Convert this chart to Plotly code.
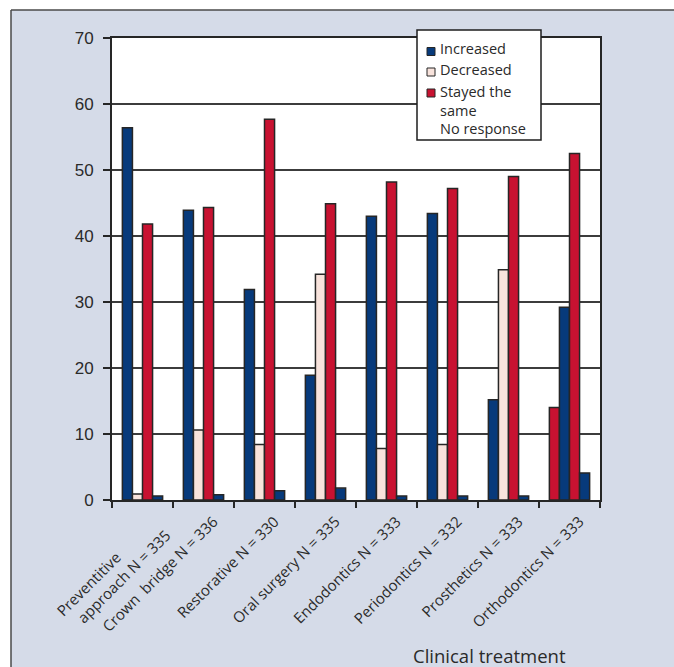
import plotly.graph_objects as go

# Survey responses (%) per clinical treatment
categories = [
    "Preventitive" + "\u00a0" * 13 + "<br>approach N = 335",
    "Crown\u00a0 bridge N = 336",
    "Restorative N = 330",
    "Oral surgery N = 335",
    "Endodontics N = 333",
    "Periodontics N = 332",
    "Prosthetics N = 333",
    "Orthodontics N = 333",
]
series_names = ["Increased", "Decreased", "Stayed the same", "No response"]
increased = [56.4, 43.9, 31.9, 18.9, 43.0, 43.4, 15.2, 14.0]
decreased = [0.9, 10.6, 8.4, 34.2, 7.8, 8.4, 34.9, 29.2]
stayed_same = [41.8, 44.3, 57.7, 44.9, 48.2, 47.2, 49.0, 52.5]
no_response = [0.6, 0.8, 1.4, 1.8, 0.6, 0.6, 0.6, 4.1]
y_ticks = [0, 10, 20, 30, 40, 50, 60, 70]

NAVY = "#073a7b"
PINK = "#f8e3dc"
RED = "#c81231"
OUTLINE = "#262626"
BG = "#d5dbe8"
TEXT = "#2a2a2a"

# the last group's bars are coloured in a different order
inc_colors = [NAVY] * 7 + [RED]
dec_colors = [PINK] * 7 + [NAVY]
stay_colors = [RED] * 8
nr_colors = [NAVY] * 8

# canvas geometry (pixels)
W, H = 674, 667
L, R, T, B = 112, 600, 38, 500
PW, PH = R - L, B - T


def px(x):
    return (x - L) / PW


def py(y):
    return (B - y) / PH


fig = go.Figure()
for name, vals, cols in zip(series_names,
                            [increased, decreased, stayed_same, no_response],
                            [inc_colors, dec_colors, stay_colors, nr_colors]):
    fig.add_trace(go.Bar(
        name=name, x=categories, y=vals,
        marker=dict(color=cols, line=dict(color=OUTLINE, width=1.5)),
        showlegend=False,
    ))

shapes = [
    # white page margin to the left and above the framed panel
    dict(type="rect", xref="paper", yref="paper", x0=px(0), x1=px(11), y0=py(H), y1=py(0),
         fillcolor="white", line=dict(width=0), layer="above"),
    dict(type="rect", xref="paper", yref="paper", x0=px(0), x1=px(W), y0=py(10), y1=py(0),
         fillcolor="white", line=dict(width=0), layer="above"),
    dict(type="line", xref="paper", yref="paper", x0=px(11), x1=px(11), y0=py(10), y1=py(H),
         line=dict(color="#4a4a4a", width=1.5), layer="above"),
    dict(type="line", xref="paper", yref="paper", x0=px(11), x1=px(W), y0=py(10), y1=py(10),
         line=dict(color="#4a4a4a", width=1.5), layer="above"),
    # legend box
    dict(type="rect", xref="paper", yref="paper", x0=px(417), x1=px(541), y0=py(140), y1=py(30),
         fillcolor="white", line=dict(color="#1e1e1e", width=1.5), layer="above"),
]

annotations = []
# legend entries: label, swatch colour, text centre (px), swatch centre (px)
legend_rows = [
    ("Increased", NAVY, 48, 51.5),
    ("Decreased", PINK, 69, 72),
    ("Stayed the<br>same", RED, 100.5, 93),
    ("No response", None, 128.5, None),
]
for text, col, ty, sy in legend_rows:
    if col is not None:
        shapes.append(dict(type="rect", xref="paper", yref="paper",
                           x0=px(427), x1=px(435), y0=py(sy + 4), y1=py(sy - 4),
                           fillcolor=col, line=dict(color=OUTLINE, width=1), layer="above"))
    annotations.append(dict(
        text=text, xref="paper", yref="paper", x=px(438), y=py(ty),
        xanchor="left", yanchor="middle", align="left", showarrow=False,
        font=dict(family="Open Sans", size=14.5, color=TEXT),
    ))

annotations.append(dict(
    text="Clinical treatment", xref="paper", yref="paper", x=px(489), y=py(655),
    xanchor="center", yanchor="middle", showarrow=False,
    font=dict(family="Open Sans", size=18.5, color=TEXT),
))

fig.update_layout(
    width=W, height=H,
    margin=dict(l=L, r=W - R, t=T, b=H - B, autoexpand=False),
    paper_bgcolor=BG, plot_bgcolor="white",
    barmode="group", bargap=0.34, bargroupgap=0,
    shapes=shapes, annotations=annotations,
    showlegend=False,
)
fig.update_xaxes(
    type="category", tickson="boundaries", ticks="outside", ticklen=6,
    tickcolor=OUTLINE, tickwidth=1.5, tickangle=-45,
    showline=True, linecolor=OUTLINE, linewidth=2, mirror=True,
    showgrid=False, automargin=False,
    ticklabelshift=10, ticklabelstandoff=5,
    tickfont=dict(family="Open Sans", size=15, color=TEXT),
)
fig.update_yaxes(
    range=[0, 70], tickvals=y_ticks, ticks="outside", ticklen=7,
    tickcolor=OUTLINE, tickwidth=1.5,
    showline=True, linecolor=OUTLINE, linewidth=2, mirror=True,
    showgrid=True, gridcolor="#3c3c3c", gridwidth=1.5, zeroline=False,
    automargin=False, ticklabelstandoff=6,
    tickfont=dict(family="Liberation Sans", size=17, color=TEXT),
)

fig.write_html("out.html")
